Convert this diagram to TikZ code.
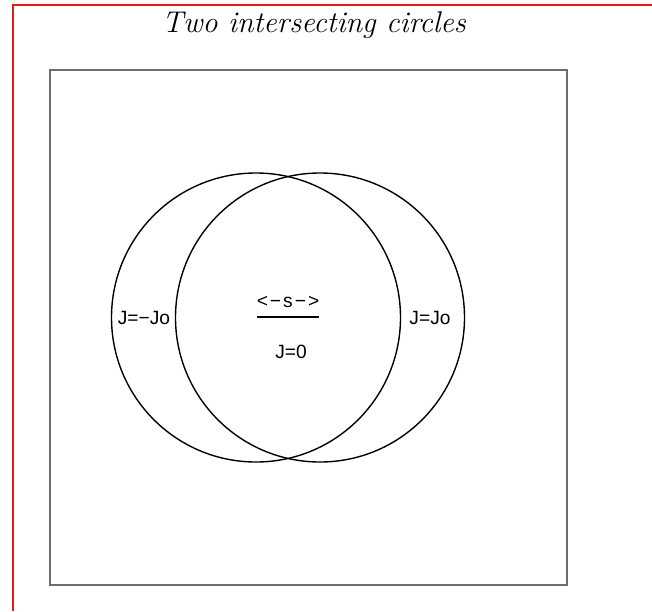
\documentclass[tikz,border=0pt]{standalone}
\usepackage{fontspec}
\newfontfamily\labelfont{Liberation Sans}
\definecolor{FrameRed}{RGB}{235,25,25}
\definecolor{BoxGray}{RGB}{110,110,110}
\usetikzlibrary{positioning}

\begin{document}
\begin{tikzpicture}[
    x=0.5pt, y=-0.5pt,
    ring/.style={circle, draw=black, line width=0.7pt, minimum size=144.5pt, inner sep=0pt},
    lbl/.style={font=\labelfont\fontsize{9.6}{11}\selectfont, inner sep=1pt},
    ttl/.style={font=\itshape\fontsize{15}{18}\selectfont, inner sep=0pt}
]
    \useasboundingbox (0,0) rectangle (652,611);
    % outer frame (top and left edges only)
    \draw[FrameRed, line width=0.8pt] (652,5) -- (13,5) -- (13,611);
    \node[ttl] (title) at (314,25) {Two intersecting circles};
    \draw[BoxGray, line width=1pt] (50,70) rectangle (567,585);
    \node[ring] (lcirc) at (256,317.5) {};
    \node[ring] (rcirc) at (320,317.5) {};
    \node[lbl] (jneg) at (144,318) {J=−Jo};
    \node[lbl] (jpos) at (430,318) {J=Jo};
    \node[lbl] (sarrow) at (288,302) {<\kern1pt−\kern1pt s\kern1pt−\kern1pt>};
    \node[lbl] (jzero) at (291,352) {J=0};
    \coordinate (sepl) at (257,317);
    \coordinate (sepr) at (319,317);
    \draw[line width=0.6pt] (sepl) -- (sepr);
\end{tikzpicture}
\end{document}
